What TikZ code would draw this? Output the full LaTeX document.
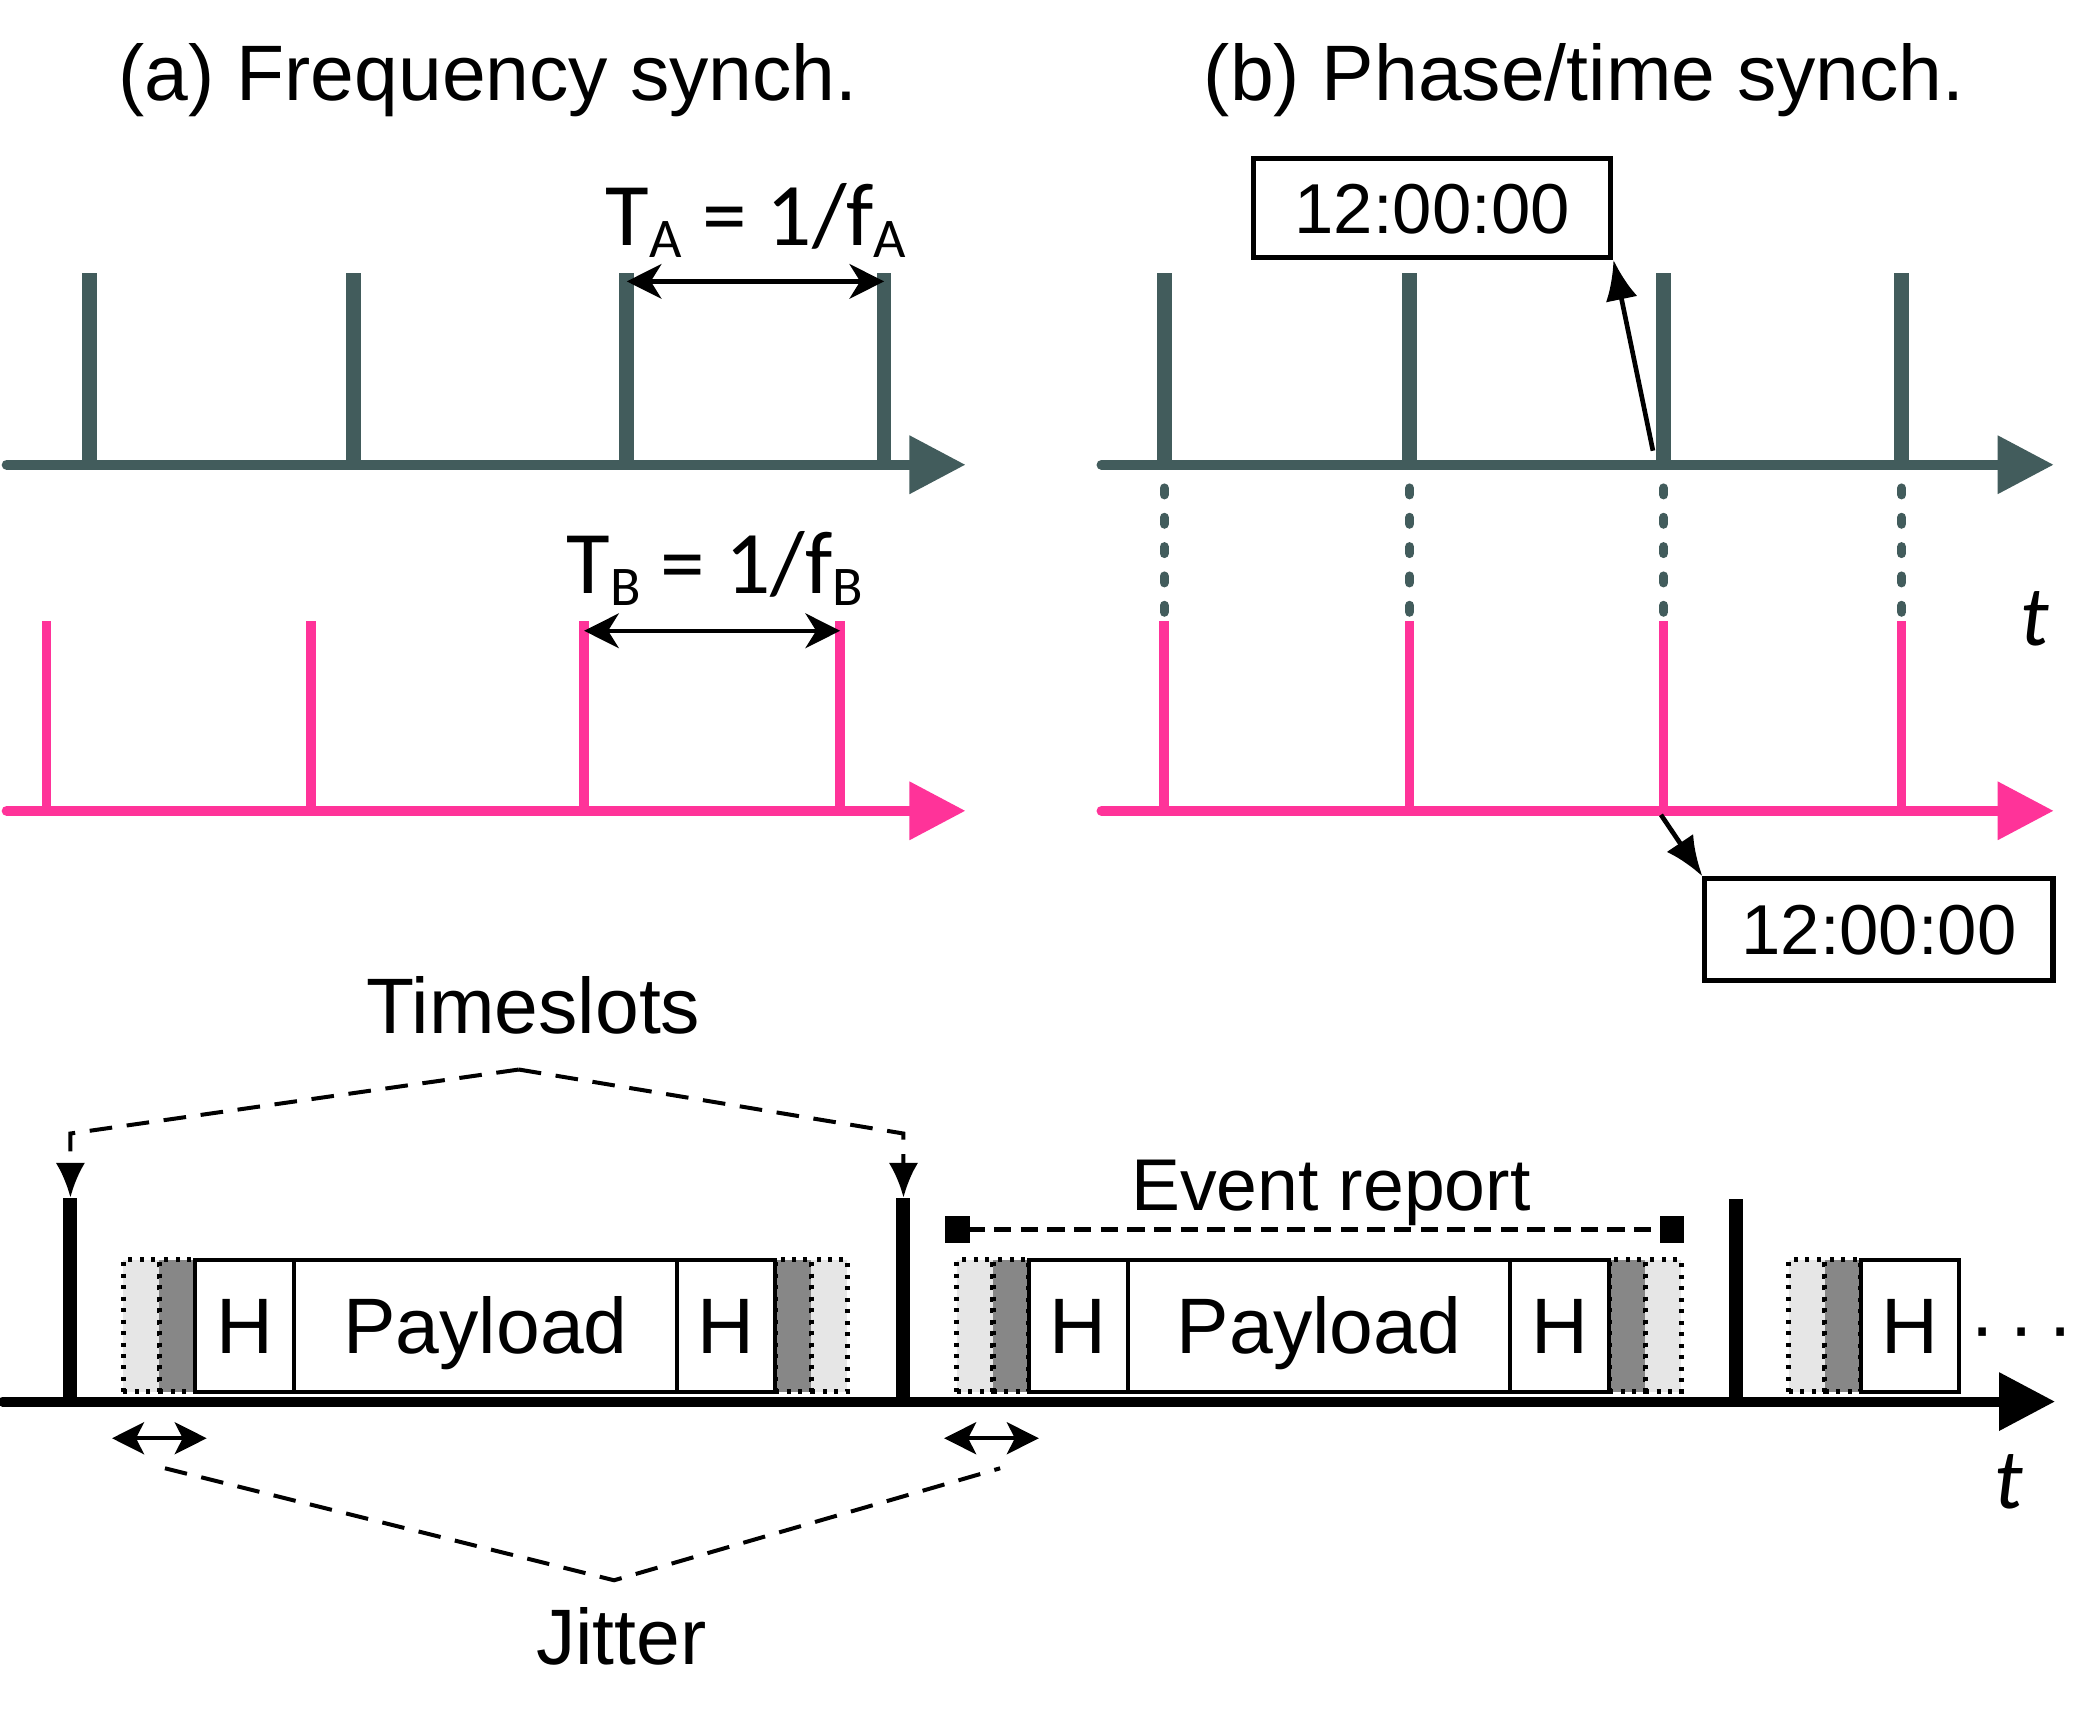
\documentclass[tikz,border=0pt]{standalone}
\usepackage{fontspec}
\setmainfont{Liberation Sans}
\newfontfamily\calfont{Carlito}
\usetikzlibrary{arrows.meta,positioning,backgrounds}

\definecolor{slate}{HTML}{425C5C}
\definecolor{rose}{HTML}{FF3399}
\definecolor{gapgray}{HTML}{E6E6E6}
\definecolor{guardgray}{HTML}{878787}

\newcommand{\lowsub}[1]{\raisebox{-0.14em}{\fontsize{21}{21}\selectfont #1}}

\tikzset{
  title/.style={font=\fontsize{29.5}{32}\selectfont, inner sep=0pt},
  period label/.style={font=\calfont\fontsize{33.5}{36}\selectfont, inner sep=0pt},
  tlabel/.style={font=\calfont\itshape\fontsize{32}{34}\selectfont, inner sep=0pt},
  slatetick/.style={draw=slate, line width=5.5pt},
  slateaxis/.style={draw=slate, line width=3.75pt, line cap=round, -{Triangle[length=21pt,width=21pt]}},
  rosetick/.style={draw=rose, line width=3.6pt},
  roseaxis/.style={draw=rose, line width=3.75pt, line cap=round, -{Triangle[length=21pt,width=21pt]}},
  period/.style={line width=1.6pt, {Stealth[length=13pt,width=13pt,inset=4pt]}-{Stealth[length=13pt,width=13pt,inset=4pt]}},
  syncdots/.style={draw=slate, line width=3.5pt, line cap=round, dash pattern=on 2.5pt off 8.5pt},
  stamp/.style={draw, line width=1.9pt, inner sep=0pt, font=\fontsize{26.5}{28}\selectfont, text height=19pt, text depth=0pt},
  stamparrow/.style={line width=1.75pt, -{Latex[length=15pt,width=12pt]}},
  slotline/.style={line width=5.25pt},
  baseaxis/.style={line width=3.75pt, line cap=round, -{Triangle[length=21pt,width=21pt]}},
  pkt/.style={draw, line width=1.5pt, minimum height=49.5pt, inner sep=0pt, outer sep=0pt, anchor=west,
    font=\fontsize{29.5}{32}\selectfont, text height=21pt, text depth=0pt},
  gap/.style={pkt, fill=gapgray, line width=1.9pt, dash pattern=on 1.5pt off 2.8pt, minimum width=13.5pt},
  guard/.style={gap, fill=guardgray},
  hdr/.style={pkt, fill=white, minimum width=37pt},
  payload/.style={pkt, fill=white, minimum width=143.5pt},
  brace/.style={line width=1.5pt, dash pattern=on 8.5pt off 5.5pt},
  jitarrow/.style={line width=1.5pt, {Stealth[length=12pt,width=12pt,inset=3pt]}-{Stealth[length=12pt,width=12pt,inset=3pt]}},
  evt/.style={line width=1.6pt, dash pattern=on 6.5pt off 3.5pt, {Square[length=9pt,width=10pt]}-{Square[length=9pt,width=10pt]}}
}

\begin{document}
\begin{tikzpicture}[x=0.5pt,y=-0.5pt]
\useasboundingbox (0,0) rectangle (1568,1296);

% (a) frequency synchronisation
\node[title, anchor=base] (titleA) at (366,75) {(a) Frequency synch.};
\draw[slatetick] (67,348.5) -- (67,205);
\draw[slatetick] (265,348.5) -- (265,205);
\draw[slatetick] (470,348.5) -- (470,205);
\draw[slatetick] (663,348.5) -- (663,205);
\draw[slateaxis] (5,348.5) -- (724,348.5);
\coordinate (pa1) at (470,211);
\coordinate (pa2) at (663,211);
\draw[period] (pa1) -- (pa2);
\node[period label, anchor=base] (TA) at (567,184) {T\lowsub{A} = 1/f\lowsub{A}};

\draw[rosetick] (35,608) -- (35,466);
\draw[rosetick] (233,608) -- (233,466);
\draw[rosetick] (438,608) -- (438,466);
\draw[rosetick] (630,608) -- (630,466);
\draw[roseaxis] (5,608) -- (724,608);
\coordinate (pb1) at (438,473);
\coordinate (pb2) at (630,473);
\draw[period] (pb1) -- (pb2);
\node[period label, anchor=base] (TB) at (536,445) {T\lowsub{B} = 1/f\lowsub{B}};

% (b) phase/time synchronisation
\node[title, anchor=base] (titleB) at (1188,75) {(b) Phase/time synch.};
\draw[slatetick] (873,348.5) -- (873,205);
\draw[slatetick] (1057,348.5) -- (1057,205);
\draw[slatetick] (1247.5,348.5) -- (1247.5,205);
\draw[slatetick] (1426,348.5) -- (1426,205);
\draw[slateaxis] (826,348.5) -- (1540,348.5);

\draw[syncdots] (873,366) -- (873,466);
\draw[syncdots] (1057,366) -- (1057,466);
\draw[syncdots] (1247.5,366) -- (1247.5,466);
\draw[syncdots] (1426,366) -- (1426,466);
\node[tlabel, anchor=base] (tB) at (1526,484) {t};

\draw[rosetick] (873,608) -- (873,466);
\draw[rosetick] (1057,608) -- (1057,466);
\draw[rosetick] (1247.5,608) -- (1247.5,466);
\draw[rosetick] (1426,608) -- (1426,466);
\draw[roseaxis] (826,608) -- (1540,608);

\node[stamp, minimum width=134pt, minimum height=37pt] (stampA) at (1074,156) {12:00:00};
\coordinate (ptA) at (1239.5,338);
\draw[stamparrow] (ptA) -- (stampA.south east);
\node[stamp, minimum width=130.5pt, minimum height=38pt] (stampB) at (1409,697) {12:00:00};
\coordinate (ptB) at (1245.5,611);
\draw[stamparrow] (ptB) -- (stampB.north west);

% timeslots
\node[title, anchor=base] (slots) at (400,775) {Timeslots};
\coordinate (slotsTop) at (389,802);
\coordinate (slotsL) at (52.8,850);
\coordinate (slotsR) at (677.5,850);
\coordinate (b1) at (52.8,898);
\coordinate (b2) at (677.5,898);
\draw[brace, -{Latex[length=13pt,width=11pt]}] (slotsTop) -- (slotsL) -- (b1);
\draw[brace, -{Latex[length=13pt,width=11pt]}] (slotsTop) -- (slotsR) -- (b2);

\draw[slotline] (52.8,1051) -- (b1);
\draw[slotline] (677.5,1051) -- (b2);
\draw[slotline] (1301.6,1051) -- (1301.6,899);

% slot 1
\node[gap] (s1g1) at (92.5,994.2) {};
\node[guard, right=0pt of s1g1] (s1g2) {};
\node[hdr, right=0pt of s1g2] (s1h1) {H};
\node[payload, right=0pt of s1h1] (s1p) {Payload};
\node[hdr, right=0pt of s1p] (s1h2) {H};
\begin{scope}[on background layer]
\node[guard, right=0pt of s1h2] (s1g3) {};
\node[gap, right=0pt of s1g3] (s1g4) {};
\end{scope}

% slot 2
\node[gap] (s2g1) at (717.6,994.2) {};
\node[guard, right=0pt of s2g1] (s2g2) {};
\node[hdr, right=0pt of s2g2] (s2h1) {H};
\node[payload, right=0pt of s2h1] (s2p) {Payload};
\node[hdr, right=0pt of s2p] (s2h2) {H};
\begin{scope}[on background layer]
\node[guard, right=0pt of s2h2] (s2g3) {};
\node[gap, right=0pt of s2g3] (s2g4) {};
\end{scope}

% slot 3
\node[gap] (s3g1) at (1341.3,994.2) {};
\node[guard, right=0pt of s3g1] (s3g2) {};
\node[hdr, right=0pt of s3g2] (s3h1) {H};
\node[title, anchor=base] (more) at (1516,1015) {·\,·\,·};

\draw[baseaxis] (2,1051) -- (1541,1051);
\node[tlabel, anchor=base] (tC) at (1506,1131) {t};

% event report
\node[title, font=\fontsize{27.5}{30}\selectfont, anchor=base] (event) at (998,907.5) {Event report};
\coordinate (evL) at (709,922);
\coordinate (evR) at (1262.5,922);
\draw[evt] (evL) -- (evR);

% jitter
\coordinate (j1a) at (84,1078.5);
\coordinate (j1b) at (155,1078.5);
\coordinate (j2a) at (708,1078.5);
\coordinate (j2b) at (779,1078.5);
\draw[jitarrow] (j1a) -- (j1b);
\draw[jitarrow] (j2a) -- (j2b);
\coordinate (jitL) at (123.7,1101);
\coordinate (jitBot) at (460.5,1185);
\coordinate (jitR) at (750,1101);
\draw[brace] (jitL) -- (jitBot) -- (jitR);
\node[title, anchor=base] (jitter) at (466,1248.5) {Jitter};
\end{tikzpicture}
\end{document}
